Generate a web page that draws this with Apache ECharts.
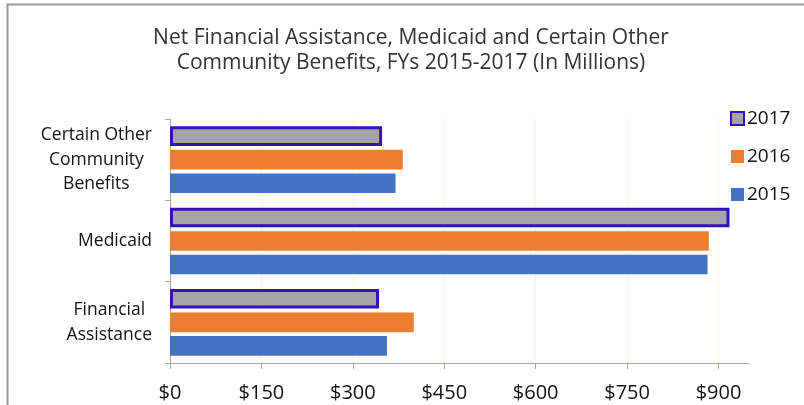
<!DOCTYPE html>
<html>
<head>
<meta charset="utf-8">
<script src="https://cdn.jsdelivr.net/npm/echarts@6/dist/echarts.min.js"></script>
<style>
  html, body { margin: 0; padding: 0; background: #fff; }
  #chart { width: 804px; height: 405px; }
</style>
</head>
<body>
<div id="chart"></div>
<script>
// categories bottom -> top (category axis starts at the bottom)
var categories = ['Financial\nAssistance', 'Medicaid', 'Certain Other\nCommunity\nBenefits'];
// series order top -> bottom inside each category
var years = ['2017', '2016', '2015'];
var fy2015 = [356, 882, 370];
var fy2016 = [400, 884, 382];
var fy2017 = [343, 918, 348];
var xTicks = [0, 150, 300, 450, 600, 750, 900];

var colors = { '2015': '#4472C4', '2016': '#ED7D31', '2017': '#A5A5A5' };
var values = { '2015': fy2015, '2016': fy2016, '2017': fy2017 };

var font = 'Open Sans';

var chart = echarts.init(document.getElementById('chart'));

var series = years.map(function (y) {
  var s = {
    name: y,
    type: 'bar',
    data: values[y],
    barCategoryGap: '18%',
    barGap: '20%',
    itemStyle: { color: colors[y] }
  };
  if (y === '2017') {
    s.itemStyle.borderColor = '#3311BB';
    s.itemStyle.borderWidth = 3;
  }
  return s;
});

var option = {
  backgroundColor: '#fff',
  animation: false,
  title: {
    text: 'Net Financial Assistance, Medicaid and Certain Other\nCommunity Benefits, FYs 2015-2017 (In Millions)',
    left: 411,
    textAlign: 'center',
    top: 26,
    padding: 0,
    textStyle: {
      fontFamily: font,
      fontSize: 21,
      fontWeight: 'normal',
      color: '#333',
      lineHeight: 25
    }
  },
  legend: {
    data: ['2017', '2016', '2015'],
    orient: 'vertical',
    left: 725,
    top: 104,
    icon: 'rect',
    itemWidth: 13,
    itemHeight: 13,
    itemGap: 19,
    textStyle: { fontFamily: font, fontSize: 19, color: '#111', padding: [0, 0, 0, -2] }
  },
  grid: { left: 170, right: 55, top: 119, bottom: 42 },
  xAxis: {
    type: 'value',
    min: 0,
    max: 950,
    axisLine: { show: true, lineStyle: { color: '#A6A6A6', width: 1 } },
    axisTick: { show: true, length: 6, customValues: xTicks, lineStyle: { color: '#A6A6A6' } },
    splitLine: { show: true, lineStyle: { color: '#FFF1D6', width: 1 } },
    axisLabel: {
      customValues: xTicks,
      margin: 20,
      fontFamily: font,
      fontSize: 20,
      color: '#111',
      formatter: function (v) { return '$' + v; }
    }
  },
  yAxis: {
    type: 'category',
    data: categories,
    axisLine: { show: true, lineStyle: { color: '#A6A6A6', width: 1 } },
    axisTick: { show: true, length: 5, lineStyle: { color: '#A6A6A6' } },
    axisLabel: {
      margin: 18,
      align: 'right',
      formatter: function (v) {
        return v.split('\n').map(function (l) { return '{c|' + l + '}'; }).join('\n');
      },
      rich: {
        c: { fontFamily: font, fontSize: 17.5, color: '#111', align: 'center', lineHeight: 24.5 }
      }
    }
  },
  graphic: [{
    type: 'rect',
    shape: { x: 7.5, y: 4.5, width: 900, height: 500 },
    style: { fill: 'none', stroke: '#9A9A9A', lineWidth: 2 },
    silent: true
  }],
  series: series
};

chart.setOption(option);
</script>
</body>
</html>
